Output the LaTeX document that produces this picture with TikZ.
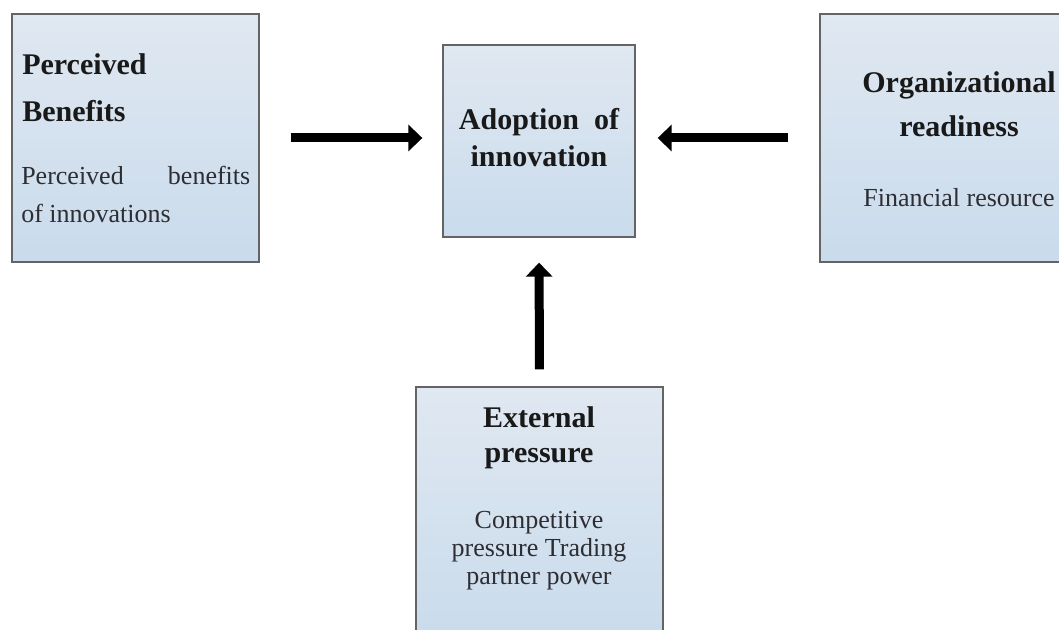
\documentclass[tikz,border=0pt]{standalone}
\usepackage{fontspec}
\setmainfont{Liberation Serif}
\usetikzlibrary{arrows.meta}
\definecolor{boxtop}{RGB}{224,232,241}
\definecolor{boxbot}{RGB}{201,219,236}
\definecolor{boxline}{RGB}{100,100,100}
\definecolor{txt}{RGB}{25,25,25}
\definecolor{bodytxt}{RGB}{45,45,50}
\tikzset{
  box/.style={draw=boxline, line width=1pt, top color=boxtop, bottom color=boxbot, inner sep=0pt},
  ttl/.style={inner sep=0pt, font=\fontsize{22.5pt}{27pt}\selectfont\bfseries, text=txt},
  bdy/.style={inner sep=0pt, font=\fontsize{19.5pt}{23pt}\selectfont, text=bodytxt},
  arr/.style={line width=6.75pt, -{Triangle[length=10.5pt, width=19.5pt]}, black}
}
\begin{document}
\begin{tikzpicture}[x=0.75pt, y=-0.75pt]
\useasboundingbox (0,0) rectangle (1059,630);
\clip (0,0) rectangle (1059,630);
\fill[white] (0,0) rectangle (1059,630);
% boxes
\node[box, minimum width=247*0.75pt, minimum height=248*0.75pt] (b1) at (135.5,138) {};
\node[box, minimum width=192*0.75pt, minimum height=192*0.75pt] (b2) at (539,141) {};
\node[box, minimum width=284*0.75pt, minimum height=248*0.75pt] (b3) at (962,138) {};
\node[box, minimum width=247*0.75pt, minimum height=253*0.75pt] (b4) at (539.5,513.5) {};
% box 1 text
\node[ttl, anchor=base west] (t1a) at (22,75) {Perceived};
\node[ttl, anchor=base west] (t1b) at (22,122) {Benefits};
\node[bdy, anchor=base west] (t1c) at (21,185) {\makebox[171.75pt][s]{Perceived\hfill benefits}};
\node[bdy, anchor=base west] (t1d) at (21,223) {of innovations};
% box 2 text
\node[ttl, anchor=base] (t2a) at (539,130) {Adoption\ \ of};
\node[ttl, anchor=base] (t2b) at (539,167) {innovation};
% box 3 text
\node[ttl, anchor=base] (t3a) at (959,93) {Organizational};
\node[ttl, anchor=base] (t3b) at (959,137) {readiness};
\node[bdy, anchor=base] (t3c) at (959,207) {Financial resource};
% box 4 text
\node[ttl, anchor=base] (t4a) at (539,427) {External};
\node[ttl, anchor=base] (t4b) at (539,462) {pressure};
\node[bdy, anchor=base] (t4c) at (539,528) {Competitive};
\node[bdy, anchor=base] (t4d) at (539,556) {pressure Trading};
\node[bdy, anchor=base] (t4e) at (539,584) {partner power};
% arrows
\draw[arr, shorten <=31*0.75pt, shorten >=20*0.75pt] (b1.east) -- (b1.east -| b2.west);
\draw[arr, shorten <=31*0.75pt, shorten >=22*0.75pt] (b3.west) -- (b3.west -| b2.east);
\draw[arr, shorten <=17*0.75pt, shorten >=25*0.75pt] (b4.north) -- (b2.south);
\end{tikzpicture}
\end{document}
